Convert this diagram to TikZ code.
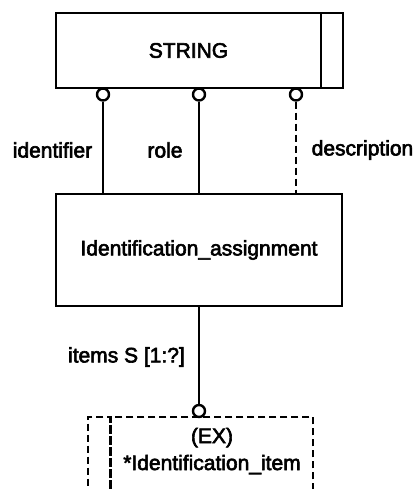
\documentclass[tikz,border=0pt]{standalone}
\usepackage{fontspec}
\setmainfont{Liberation Sans}
\newcommand\heavytext{\special{pdf:literal direct 2 Tr 0.6 w}}
\begin{document}
\begin{tikzpicture}[x=1pt,y=-1pt,
  every node/.style={font=\fontsize{21}{27}\selectfont\heavytext},
  ln/.style={line width=2.4pt},
  dsh/.style={line width=2.8pt,dash pattern=on 7pt off 4pt},
  ent/.style={draw,line width=2.4pt,rectangle,inner sep=0pt,outer sep=0pt},
  circ/.style={draw,line width=2.4pt,circle,minimum size=12pt,inner sep=0pt,fill=white},
  lbl/.style={inner sep=0pt}]
\useasboundingbox (0,0) rectangle (419,489);
% STRING
\node[ent,minimum width=265pt,minimum height=75pt] (string) at (188.5,50.5) {STRING};
\node[ent,minimum width=22pt,minimum height=75pt,anchor=west] (stringend) at (string.east) {};
% Identification_assignment
\node[ent,minimum width=286pt,minimum height=112pt] (assign) at (199,250) {Identification\_assignment};
% lollipops
\node[circ] (c1) at (103,94.5) {};
\node[circ] (c2) at (199,94.5) {};
\node[circ] (c3) at (296,94.5) {};
\draw[ln] (c1.south) -- (c1.south |- assign.north);
\draw[ln] (c2.south) -- (c2.south |- assign.north);
\draw[dsh] (c3.south) -- (c3.south |- assign.north);
\node[lbl] (l1) at (52.5,150) {identifier};
\node[lbl] (l2) at (165,150) {role};
\node[lbl] (l3) at (362.5,150) {description};
% bottom item
\node[ent,dsh,minimum width=202.3pt,minimum height=80pt,anchor=north west] (item) at (110.7,417) {};
\node[ent,dsh,minimum width=22.7pt,minimum height=80pt,anchor=north east] (itemside) at (item.north west) {};
\node[lbl,align=center] (itemtxt) at (212,451) {(EX)\\*Identification\_item};
\node[circ] (c4) at (199,411) {};
\draw[ln] (assign.south -| c4) -- (c4.north);
\node[lbl,anchor=east] (l4) at (185,357) {items S [1:?]};
\end{tikzpicture}
\end{document}
